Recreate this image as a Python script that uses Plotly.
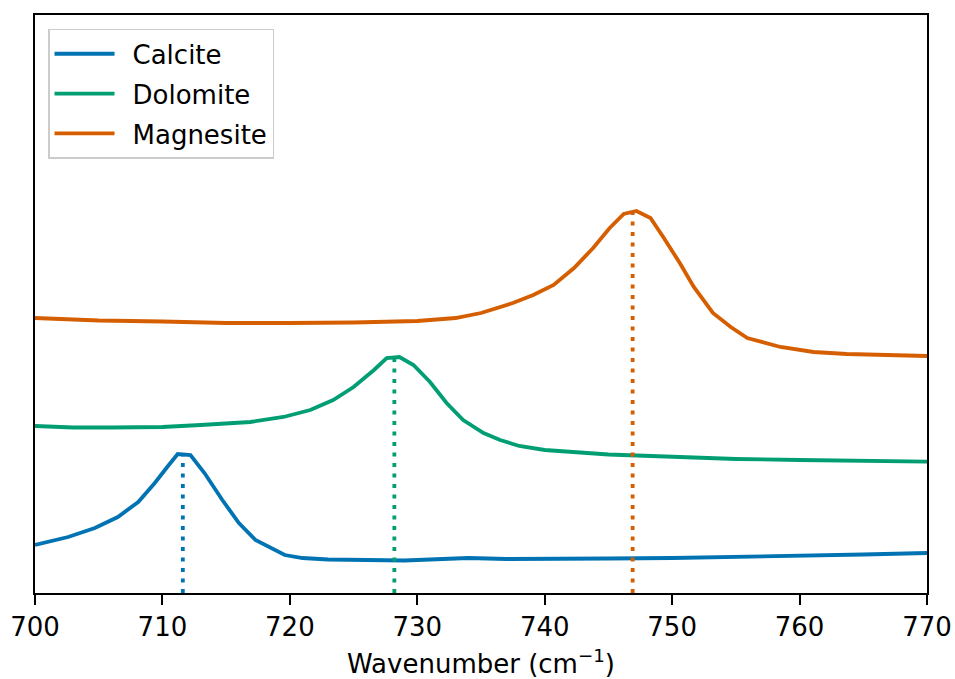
import plotly.graph_objects as go

# Wavenumber positions (cm^-1) and intensities (arbitrary units, offset per mineral)
calcite_x = [700, 702.6, 704.7, 706.5, 708.1, 709.4, 710.5, 711.2, 712.2, 713.3, 714.7, 716.0,
             717.3, 718.8, 719.6, 721, 723, 726, 729, 731, 734, 737, 740, 745, 750, 755, 760, 765, 770]
calcite_y = [0.48, 0.56, 0.65, 0.76, 0.91, 1.10, 1.28, 1.39, 1.38, 1.20, 0.93, 0.70,
             0.53, 0.43, 0.38, 0.35, 0.335, 0.33, 0.325, 0.335, 0.35, 0.34, 0.34, 0.345, 0.35, 0.36, 0.375, 0.385, 0.40]

dolomite_x = [700, 703, 706, 710, 713, 716.9, 719.5, 721.6, 723.4, 725.0, 726.6, 727.6, 728.6,
              729.7, 731.0, 732.3, 733.6, 735.2, 736.5, 738, 740, 745, 750.6, 755, 760, 765, 770]
dolomite_y = [1.67, 1.655, 1.655, 1.66, 1.68, 1.71, 1.76, 1.83, 1.93, 2.06, 2.23, 2.35, 2.36,
              2.28, 2.11, 1.90, 1.73, 1.60, 1.53, 1.47, 1.43, 1.385, 1.36, 1.34, 1.33, 1.325, 1.313]

magnesite_x = [700, 705, 710, 715, 720, 725, 730, 733, 735, 737.5, 739.1, 740.7, 742.3, 743.8,
               745.1, 746.2, 747.2, 748.3, 749.3, 750.6, 751.7, 753.2, 754.6, 755.9, 758.5,
               761.1, 763.7, 766.3, 770]
magnesite_y = [2.75, 2.725, 2.715, 2.70, 2.70, 2.705, 2.72, 2.75, 2.80, 2.90, 2.98, 3.08, 3.25, 3.45,
               3.65, 3.79, 3.82, 3.75, 3.56, 3.30, 3.06, 2.80, 2.66, 2.55, 2.46,
               2.41, 2.39, 2.38, 2.37]

names = ["Calcite", "Dolomite", "Magnesite"]
peak_positions = [711.6, 728.2, 746.9]
peak_heights = [1.39, 2.37, 3.83]
colors = ["#0173B2", "#029E73", "#D55E00"]

tick_vals = [700, 710, 720, 730, 740, 750, 760, 770]

series = [(calcite_x, calcite_y), (dolomite_x, dolomite_y), (magnesite_x, magnesite_y)]

fig = go.Figure()
for (xs, ys), name, col in zip(series, names, colors):
    fig.add_trace(go.Scatter(x=xs, y=ys, mode="lines", name="\u2002" + name, legendgroup=name,
                             line=dict(color=col, width=3.8)))
for pos, h, col in zip(peak_positions, peak_heights, colors):
    fig.add_trace(go.Scatter(x=[pos, pos], y=[0, h], mode="lines", showlegend=False,
                             line=dict(color=col, width=3.8, dash="4px,6.5px")))

font_family = "DejaVu Sans"
fs = 26
fig.update_layout(
    width=955, height=679,
    margin=dict(l=35, r=28, t=15, b=86),
    paper_bgcolor="white", plot_bgcolor="white",
    font=dict(family=font_family, size=fs, color="black"),
    showlegend=True,
    legend=dict(x=0.0146, y=0.976, xanchor="left", yanchor="top",
                bgcolor="rgba(255,255,255,0.8)", bordercolor="#cccccc", borderwidth=1.5,
                font=dict(family=font_family, size=fs, color="black"),
                itemwidth=60, tracegroupgap=3),
)
fig.update_xaxes(range=[700, 770], tickvals=tick_vals, ticktext=[str(v) for v in tick_vals],
                 ticks="outside", ticklen=10, tickwidth=2, tickcolor="black",
                 showline=True, linecolor="black", linewidth=2, mirror=True,
                 showgrid=False, zeroline=False, automargin=False,
                 tickfont=dict(family=font_family, size=fs, color="black"),
                 title=dict(text="Wavenumber (cm<sup>−1</sup>)", standoff=17,
                            font=dict(family=font_family, size=fs, color="black")))
fig.update_yaxes(range=[0, 5.78], showticklabels=False, ticks="",
                 showline=True, linecolor="black", linewidth=2, mirror=True,
                 showgrid=False, zeroline=False, automargin=False)

fig.write_html("out.html")
